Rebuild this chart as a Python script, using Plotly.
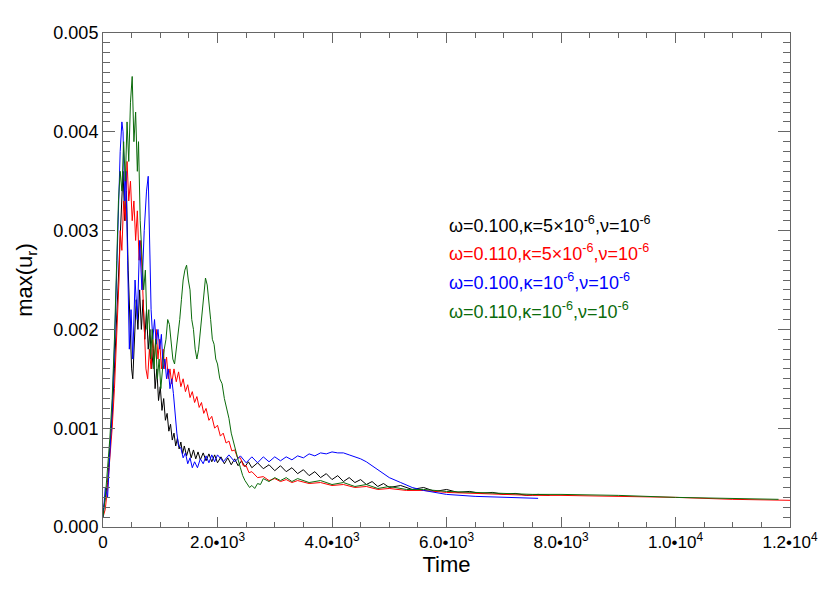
import plotly.graph_objects as go

# (time, max(u_r)), one list per run
black_pts = [
    (0, 0.00015), (40, 0.0003), (80, 0.00045), (120, 0.0008), (160, 0.0011), (200, 0.0016),
    (240, 0.0021), (280, 0.0027), (320, 0.0032), (350, 0.0036), (380, 0.0031), (410, 0.0034),
    (440, 0.0026), (470, 0.0021), (500, 0.0016), (520, 0.0015), (550, 0.0019), (580, 0.0023),
    (610, 0.0020), (640, 0.0024), (670, 0.0020), (700, 0.0023), (730, 0.0019), (760, 0.0022),
    (790, 0.0018), (820, 0.0020), (850, 0.0016), (880, 0.0018), (910, 0.0014), (940, 0.0016),
    (970, 0.00128), (1000, 0.00142), (1030, 0.00118), (1060, 0.0013), (1090, 0.00108),
    (1120, 0.00115), (1150, 0.00097), (1180, 0.00104), (1210, 0.00088), (1240, 0.00095),
    (1270, 0.00082), (1300, 0.0009), (1330, 0.00079), (1360, 0.00086), (1390, 0.00074),
    (1420, 0.00082), (1460, 0.00072), (1500, 0.0008), (1540, 0.0007), (1580, 0.00078),
    (1620, 0.00069), (1660, 0.00076), (1700, 0.00068), (1750, 0.00075), (1800, 0.00067),
    (1850, 0.00074), (1900, 0.00066), (1950, 0.00073), (2000, 0.00065), (2060, 0.00071),
    (2120, 0.00064), (2180, 0.0007), (2240, 0.00063), (2300, 0.00069), (2360, 0.00062),
    (2420, 0.00067), (2480, 0.00061), (2540, 0.00066), (2600, 0.0006), (2700, 0.00065),
    (2800, 0.00059), (2900, 0.00063), (3000, 0.00057), (3100, 0.00062), (3200, 0.00056),
    (3300, 0.0006), (3400, 0.00054), (3500, 0.00058), (3600, 0.00052), (3700, 0.00056),
    (3800, 0.0005), (3900, 0.00054), (4000, 0.00048), (4100, 0.00052), (4200, 0.00046),
    (4300, 0.0005), (4400, 0.00045), (4500, 0.00048), (4600, 0.00043), (4700, 0.00046),
    (4800, 0.00041), (4900, 0.00044), (5000, 0.0004), (5200, 0.00042), (5400, 0.00038),
    (5600, 0.0004), (5800, 0.00036), (6000, 0.00038), (6200, 0.00035), (6400, 0.00036),
    (6600, 0.00034), (6800, 0.00035), (7000, 0.00033), (7200, 0.00034), (7400, 0.00032),
    (7600, 0.00033), (7800, 0.00032),
]

red_pts = [
    (0, 0.0001), (40, 0.00018), (80, 0.0004), (120, 0.0007), (160, 0.001), (200, 0.0014),
    (240, 0.0019), (280, 0.0025), (300, 0.003), (330, 0.0028), (360, 0.0033), (390, 0.0031),
    (420, 0.0037), (450, 0.0033), (480, 0.0035), (510, 0.0031), (540, 0.0033), (570, 0.0029),
    (600, 0.0032), (630, 0.0027), (660, 0.0029), (690, 0.0024), (720, 0.0021), (750, 0.0016),
    (780, 0.0015), (810, 0.0018), (840, 0.0016), (870, 0.0019), (900, 0.0017), (930, 0.002),
    (960, 0.0017), (990, 0.0019), (1020, 0.0016), (1050, 0.0018), (1080, 0.0016),
    (1110, 0.00172), (1140, 0.0015), (1170, 0.0016), (1200, 0.00145), (1240, 0.0016),
    (1280, 0.00147), (1320, 0.00157), (1360, 0.00142), (1400, 0.0015), (1440, 0.00137),
    (1480, 0.00144), (1520, 0.00131), (1560, 0.00137), (1600, 0.00126), (1640, 0.00132),
    (1680, 0.00121), (1720, 0.00126), (1760, 0.00115), (1800, 0.0012), (1850, 0.00108),
    (1900, 0.00112), (1950, 0.001), (2000, 0.00103), (2050, 0.00092), (2100, 0.00095),
    (2150, 0.00085), (2200, 0.00087), (2250, 0.00077), (2300, 0.00078), (2350, 0.0007),
    (2400, 0.0007), (2450, 0.00062), (2500, 0.00062), (2550, 0.00055), (2600, 0.00056),
    (2700, 0.0005), (2800, 0.00051), (2900, 0.00047), (3000, 0.00049), (3100, 0.00046),
    (3200, 0.00048), (3300, 0.00045), (3400, 0.00047), (3600, 0.00044), (3800, 0.00045),
    (4000, 0.00042), (4200, 0.00043), (4400, 0.0004), (4600, 0.00041), (4800, 0.00038),
    (5000, 0.00039), (5300, 0.00037), (5600, 0.00037), (6000, 0.00035), (6500, 0.00034),
    (7000, 0.00033), (7500, 0.00032), (8000, 0.00032), (9000, 0.00031), (10000, 0.0003),
    (11000, 0.00028), (12000, 0.00027),
]

blue_pts = [
    (0, 0.0001), (40, 0.0004), (80, 0.0003), (120, 0.0007), (160, 0.0012), (200, 0.0018),
    (240, 0.0026), (270, 0.0033), (300, 0.0038), (330, 0.0041), (350, 0.004), (380, 0.0033),
    (400, 0.0036), (430, 0.0027), (460, 0.0018), (490, 0.0022), (520, 0.0017), (560, 0.0025),
    (600, 0.0021), (640, 0.0029), (680, 0.0024), (720, 0.003), (760, 0.0034), (790, 0.00355),
    (810, 0.003), (840, 0.0022), (870, 0.0019), (900, 0.0021), (930, 0.00185), (960, 0.002),
    (990, 0.0018), (1020, 0.00195), (1050, 0.0016), (1080, 0.0017), (1110, 0.0015),
    (1140, 0.0016), (1170, 0.0014), (1200, 0.0015), (1230, 0.00135), (1260, 0.0011),
    (1290, 0.00095), (1320, 0.00082), (1360, 0.0008), (1400, 0.0007), (1440, 0.00075),
    (1480, 0.00064), (1520, 0.0007), (1560, 0.0006), (1600, 0.00066), (1650, 0.0006),
    (1700, 0.00069), (1750, 0.00064), (1800, 0.00072), (1850, 0.00065), (1900, 0.00073),
    (1950, 0.00066), (2000, 0.00073), (2100, 0.00066), (2200, 0.00073), (2300, 0.00066),
    (2400, 0.00072), (2500, 0.00065), (2600, 0.00071), (2700, 0.00065), (2800, 0.00071),
    (2900, 0.00066), (3000, 0.00071), (3100, 0.00067), (3200, 0.00071), (3300, 0.00068),
    (3400, 0.00072), (3500, 0.0007), (3600, 0.00074), (3700, 0.00072), (3800, 0.00075),
    (3900, 0.00074), (4000, 0.00076), (4100, 0.00075), (4200, 0.00075), (4300, 0.00073),
    (4400, 0.00071), (4500, 0.00069), (4600, 0.00066), (4700, 0.00062), (4800, 0.00058),
    (4900, 0.00054), (5000, 0.0005), (5200, 0.00045), (5400, 0.0004), (5600, 0.00037),
    (5800, 0.00035), (6000, 0.00033), (6500, 0.00031), (7000, 0.0003), (7600, 0.00029),
]

green_pts = [
    (0, 0.0001), (40, 0.0003), (80, 0.0006), (120, 0.0009), (160, 0.0013), (200, 0.0019),
    (240, 0.0027), (270, 0.0033), (300, 0.0036), (330, 0.0034), (360, 0.0039), (390, 0.0035),
    (420, 0.0041), (450, 0.0037), (480, 0.0043), (510, 0.00456), (540, 0.0039), (570, 0.0042),
    (600, 0.0036), (620, 0.0039), (650, 0.0031), (680, 0.0027), (710, 0.0024), (740, 0.0026),
    (770, 0.002), (800, 0.0022), (830, 0.0017), (860, 0.002), (890, 0.0016), (920, 0.0019),
    (950, 0.0015), (980, 0.0017), (1010, 0.0014), (1040, 0.0016), (1070, 0.0018),
    (1100, 0.0019), (1130, 0.0021), (1160, 0.00205), (1190, 0.0019), (1220, 0.0017),
    (1250, 0.00165), (1280, 0.0018), (1310, 0.0019), (1340, 0.0021), (1370, 0.0023),
    (1400, 0.0025), (1430, 0.0026), (1460, 0.00265), (1490, 0.0025), (1520, 0.0024),
    (1550, 0.0021), (1580, 0.002), (1610, 0.0018), (1640, 0.0017), (1670, 0.0018),
    (1700, 0.002), (1730, 0.0022), (1760, 0.0024), (1790, 0.00252), (1820, 0.00245),
    (1850, 0.0023), (1880, 0.0021), (1910, 0.0019), (1940, 0.00185), (1970, 0.0017),
    (2000, 0.00165), (2040, 0.0015), (2080, 0.00145), (2120, 0.0013), (2160, 0.0012),
    (2200, 0.0011), (2240, 0.00095), (2280, 0.00085), (2320, 0.00075), (2360, 0.00068),
    (2400, 0.0006), (2440, 0.00052), (2480, 0.00047), (2520, 0.00043), (2560, 0.0004),
    (2600, 0.00042), (2650, 0.00039), (2700, 0.00044), (2750, 0.00043), (2800, 0.00049),
    (2900, 0.00046), (3000, 0.0005), (3100, 0.00047), (3200, 0.0005), (3300, 0.00046),
    (3400, 0.00049), (3600, 0.00045), (3800, 0.00047), (4000, 0.00043), (4200, 0.00045),
    (4400, 0.00041), (4600, 0.00043), (4800, 0.00039), (5000, 0.00041), (5300, 0.00038),
    (5600, 0.00038), (6000, 0.00036), (6500, 0.00035), (7000, 0.00034), (7500, 0.00033),
    (8000, 0.00033), (9000, 0.00032), (10000, 0.0003), (11000, 0.00029), (11800, 0.00028),
]

series = [
    ("ω=0.100,κ=5×10<sup>-6</sup>,ν=10<sup>-6</sup>", black_pts, "#000000"),
    ("ω=0.110,κ=5×10<sup>-6</sup>,ν=10<sup>-6</sup>", red_pts, "#ff0000"),
    ("ω=0.100,κ=10<sup>-6</sup>,ν=10<sup>-6</sup>", blue_pts, "#0000ff"),
    ("ω=0.110,κ=10<sup>-6</sup>,ν=10<sup>-6</sup>", green_pts, "#0b6b0b"),
]

x_tickvals = [0, 2000, 4000, 6000, 8000, 10000, 12000]
x_ticktext = ["0", "2.0•10<sup>3</sup>", "4.0•10<sup>3</sup>", "6.0•10<sup>3</sup>",
              "8.0•10<sup>3</sup>", "1.0•10<sup>4</sup>", "1.2•10<sup>4</sup>"]
y_tickvals = [0, 0.001, 0.002, 0.003, 0.004, 0.005]

FONT = "Liberation Sans, Arial, Helvetica, sans-serif"
AXIS_COLOR = "#666666"

fig = go.Figure()
for name, pts, color in series:
    fig.add_trace(go.Scatter(
        x=[p[0] for p in pts],
        y=[p[1] for p in pts],
        mode="lines",
        line=dict(color=color, width=1),
        name=name,
        showlegend=False,
    ))

# label block on the right, one line per run
label_y = [0.613, 0.556, 0.497, 0.439]
for (name, _, color), yy in zip(series, label_y):
    fig.add_annotation(
        text=name, xref="paper", yref="paper", x=0.5, y=yy,
        xanchor="left", yanchor="middle", showarrow=False,
        font=dict(color=color, size=18, family=FONT),
    )

# the page body adds an 8px margin, so the figure is 8px smaller on each axis
fig.update_layout(
    width=822,
    height=585,
    plot_bgcolor="white",
    paper_bgcolor="white",
    font=dict(family=FONT, size=18, color="black"),
    margin=dict(l=95, r=31, t=25, b=66),
    xaxis=dict(
        range=[0, 12000],
        tickvals=x_tickvals,
        ticktext=x_ticktext,
        tickfont=dict(size=17),
        ticks="inside",
        ticklen=10,
        tickcolor=AXIS_COLOR,
        showline=True,
        linecolor=AXIS_COLOR,
        linewidth=1,
        mirror="ticks",
        showgrid=False,
        zeroline=False,
        minor=dict(dtick=500, ticks="inside", ticklen=5, tickcolor=AXIS_COLOR, showgrid=False),
        title=dict(text="Time", standoff=2),
    ),
    yaxis=dict(
        range=[0, 0.005],
        tickvals=y_tickvals,
        tickformat=".3f",
        ticks="inside",
        ticklen=12,
        tickcolor=AXIS_COLOR,
        showline=True,
        linecolor=AXIS_COLOR,
        linewidth=1,
        mirror="ticks",
        showgrid=False,
        zeroline=False,
        minor=dict(dtick=0.0001, ticks="inside", ticklen=7, tickcolor=AXIS_COLOR, showgrid=False),
        title=dict(text="max(u<sub>r</sub>)", standoff=14),
    ),
)

fig.write_html("out.html")
